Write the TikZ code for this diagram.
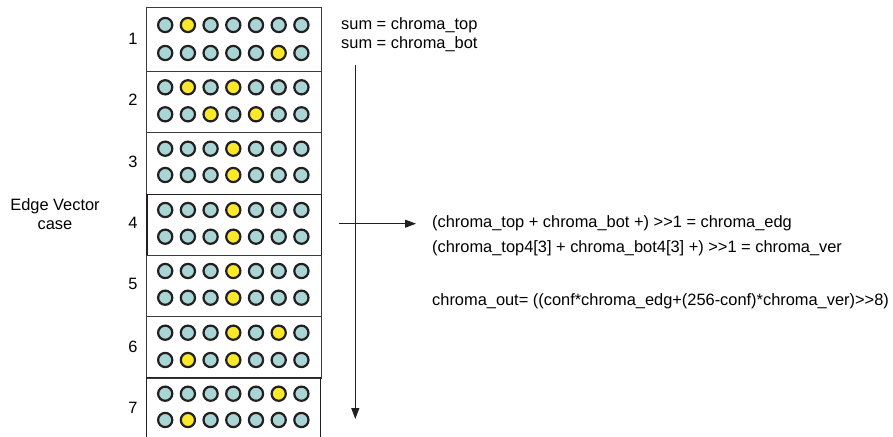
\documentclass[tikz,border=0pt]{standalone}
\usepackage{fontspec}
\setmainfont{Liberation Sans}
\usetikzlibrary{arrows.meta}
\definecolor{dotteal}{HTML}{A9D5D4}
\definecolor{dotyel}{HTML}{F9E92A}
\definecolor{ink}{HTML}{231F20}
\definecolor{boxline}{HTML}{3A3A3A}
\begin{document}
\begin{tikzpicture}[x=1pt,y=-1pt,
  dot/.style={circle,draw=ink,line width=2.2pt,inner sep=0pt,minimum size=14.2pt},
  blk/.style={draw=boxline,line width=1pt,inner sep=0pt,anchor=north west,minimum width=174.4pt},
  txt/.style={font=\fontsize{16.4}{19}\selectfont,inner sep=0pt,anchor=west},
  num/.style={font=\fontsize{16.4}{19}\selectfont,inner sep=0pt},
  arr/.style={draw=ink,line width=1pt,-{Triangle[length=11pt,width=8pt]}}]
\useasboundingbox (0,0) rectangle (893,436);
\fill[white] (0,0) rectangle (893,436);
% blocks
\node[blk,minimum height=63.2pt] (blk1) at (146.3,7.5) {};
\node[blk,minimum height=61.3pt] (blk2) at (146.3,70.7) {};
\node[blk,minimum height=61.5pt] (blk3) at (146.3,132) {};
\node[blk,minimum height=61.5pt,line width=1.4pt,draw=ink] (blk4) at (146.3,193.5) {};
\node[blk,minimum height=61pt] (blk5) at (146.3,255) {};
\node[blk,minimum height=61.7pt] (blk6) at (146.3,316) {};
\draw[draw=ink,line width=1.3pt] (146.3,440) -- (146.3,377.7) -- (320.7,377.7) -- (320.7,440);
% dots: row/y/yellow1/yellow2
\foreach \r/\yy/\ya/\yb in {1/25/2/0, 2/53/6/0, 3/87.3/2/4, 4/114.3/3/5,
  5/148.7/4/0, 6/175/4/0, 7/210/4/0, 8/236.7/4/0, 9/271/4/0, 10/297.7/4/0,
  11/332.7/4/6, 12/360/2/4, 13/393.7/6/0, 14/420/2/0}{
  \foreach \c [evaluate=\c as \xx using 165.2+22.7*(\c-1)] in {1,...,7}{
    \ifnum\c=\ya\relax
      \node[dot,fill=dotyel] (d\r-\c) at (\xx,\yy) {};
    \else\ifnum\c=\yb\relax
      \node[dot,fill=dotyel] (d\r-\c) at (\xx,\yy) {};
    \else
      \node[dot,fill=dotteal] (d\r-\c) at (\xx,\yy) {};
    \fi\fi
  }
}
% block numbers
\node[num] (n1) at (133,39) {1};
\node[num] (n2) at (133,100) {2};
\node[num] (n3) at (133,162) {3};
\node[num] (n4) at (133,223) {4};
\node[num] (n5) at (133,284) {5};
\node[num] (n6) at (133,347) {6};
\node[num] (n7) at (133,408) {7};
% left label
\node[num,align=center] (lab) at (55,214) {Edge Vector\\case};
% texts
\node[txt] (s1) at (341,25) {sum = chroma\_top};
\node[txt] (s2) at (341,44) {sum = chroma\_bot};
\node[txt] (t1) at (432,223.5) {(chroma\_top + chroma\_bot +) >{}>1 = chroma\_edg};
\node[txt] (t2) at (432,248) {(chroma\_top4[3] + chroma\_bot4[3] +) >{}>1 = chroma\_ver};
\node[txt] (t3) at (432,301) {chroma\_out= ((conf*chroma\_edg+(256-conf)*chroma\_ver)>{}>8)};
% arrows
\coordinate (vs) at (355.3,65);
\coordinate (ve) at (355.3,419);
\draw[arr] (vs) -- (ve);
\coordinate (hs) at (339,223.7);
\coordinate (he) at (416,223.7);
\draw[arr] (hs) -- (he);
\end{tikzpicture}
\end{document}
